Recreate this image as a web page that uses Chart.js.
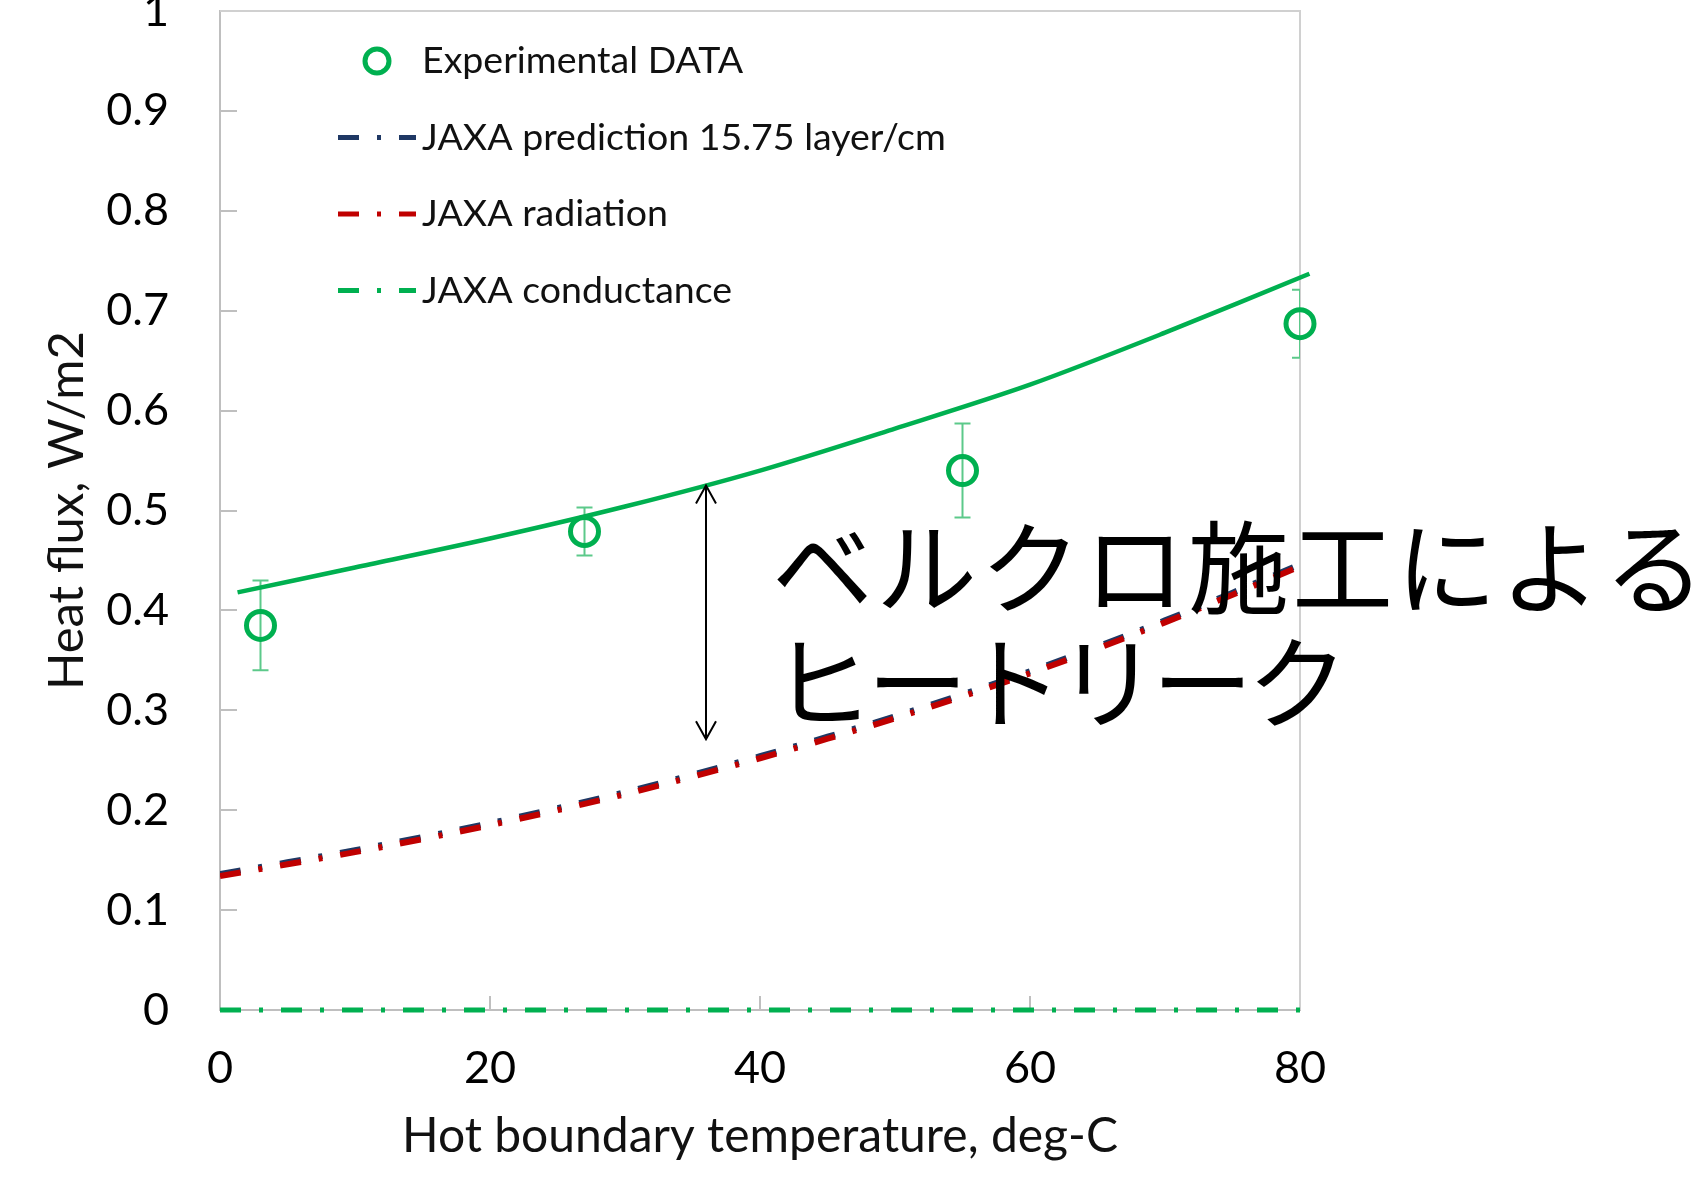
<!DOCTYPE html>
<html>
<head>
<meta charset="utf-8">
<script src="https://cdn.jsdelivr.net/npm/chart.js@4/dist/chart.umd.min.js"></script>
<style>
  html, body { margin: 0; padding: 0; background: #fff; overflow: hidden; }
  #wrap { position: relative; width: 1699px; height: 1179px; }
  canvas { display: block; }
</style>
</head>
<body>
<div id="wrap"><canvas id="c" width="1699" height="1179"></canvas></div>
<script>
// Measured heat flux with error bars
const expTemp = [3, 27, 55, 80];
const expFlux = [0.385, 0.479, 0.540, 0.687];
const expErr  = [0.045, 0.024, 0.047, 0.034];

// JAXA model curves
const modelTemp       = [0, 10, 20, 30, 40, 50, 60, 70, 80];
const predictionFlux  = [0.136, 0.160, 0.187, 0.218, 0.254, 0.294, 0.339, 0.390, 0.446];
const radiationFlux   = [0.134, 0.158, 0.185, 0.216, 0.252, 0.292, 0.337, 0.388, 0.444];
const conductanceFlux = [0, 0, 0, 0, 0, 0, 0, 0, 0];

// Curve including the velcro heat leak
const velcroTemp = [1.3, 10, 20, 30, 40, 50, 60, 70, 80.7];
const velcroFlux = [0.418, 0.443, 0.472, 0.504, 0.540, 0.582, 0.626, 0.678, 0.737];

// Axes
const xTicks = [0, 20, 40, 60, 80];
const yTicks = [0, 0.1, 0.2, 0.3, 0.4, 0.5, 0.6, 0.7, 0.8, 0.9, 1];
const yTickLabels = ['0', '0.1', '0.2', '0.3', '0.4', '0.5', '0.6', '0.7', '0.8', '0.9', '1'];

// Heat-leak annotation (temperature, lower and upper flux)
const leakArrow = { x: 36, yLow: 0.271, yHigh: 0.525 };
const leakText = ['ベルクロ施工による', 'ヒートリーク'];

const GREEN = '#00b050';
const RED = '#c00000';
const NAVY = '#1f3864';
const AXIS = '#bfbfbf';
const DASH_DOT = [21, 18, 4, 18];

const pts = (xs, ys) => xs.map((x, i) => ({ x, y: ys[i] }));

Chart.defaults.font.family = 'Lato, "Open Sans", sans-serif';
Chart.defaults.color = '#000';

// Plot frame (top and right edges)
const framePlugin = {
  id: 'frame',
  beforeDatasetsDraw(chart) {
    const { ctx, chartArea: a } = chart;
    ctx.save();
    ctx.strokeStyle = '#d0d0d0';
    ctx.lineWidth = 2;
    ctx.beginPath();
    ctx.moveTo(a.left, a.top);
    ctx.lineTo(a.right, a.top);
    ctx.lineTo(a.right, a.bottom);
    ctx.stroke();
    ctx.restore();
  }
};

// Vertical error bars of the measured points
const errorBarPlugin = {
  id: 'errorBars',
  beforeDatasetsDraw(chart) {
    const { ctx, chartArea: a, scales: { x, y } } = chart;
    ctx.save();
    ctx.beginPath();
    ctx.rect(a.left, a.top, a.right - a.left, a.bottom - a.top);
    ctx.clip();
    ctx.strokeStyle = '#5cc98a';
    ctx.lineWidth = 2;
    expTemp.forEach((t, i) => {
      const px = x.getPixelForValue(t);
      const top = y.getPixelForValue(expFlux[i] + expErr[i]);
      const bot = y.getPixelForValue(expFlux[i] - expErr[i]);
      ctx.beginPath();
      ctx.moveTo(px, top); ctx.lineTo(px, bot);
      ctx.moveTo(px - 8, top); ctx.lineTo(px + 8, top);
      ctx.moveTo(px - 8, bot); ctx.lineTo(px + 8, bot);
      ctx.stroke();
    });
    ctx.restore();
  }
};

// Legend rows in the upper-left corner of the plot
const legendPlugin = {
  id: 'legendRows',
  afterDraw(chart) {
    const ctx = chart.ctx;
    const rows = chart.data.datasets.filter(d => d.legendRow !== undefined)
      .sort((a, b) => a.legendRow - b.legendRow);
    ctx.save();
    ctx.font = '37.5px Lato, "Open Sans", sans-serif';
    ctx.textBaseline = 'middle';
    ctx.fillStyle = '#111';
    rows.forEach((d, i) => {
      const yRow = 61 + i * 76.5;
      ctx.strokeStyle = d.borderColor;
      ctx.lineWidth = 5;
      ctx.beginPath();
      if (d.showLine === false) {
        ctx.arc(377, yRow, 12, 0, Math.PI * 2);
        ctx.stroke();
      } else {
        ctx.setLineDash(d.borderDash || []);
        ctx.moveTo(338, yRow);
        ctx.lineTo(416, yRow);
        ctx.stroke();
        ctx.setLineDash([]);
      }
      ctx.fillText(d.label, 422, yRow);
    });
    ctx.restore();
  }
};

// Double arrow and caption for the velcro heat leak
const annotationPlugin = {
  id: 'leakNote',
  afterDraw(chart) {
    const { ctx, scales: { x, y } } = chart;
    const px = x.getPixelForValue(leakArrow.x);
    const pTop = y.getPixelForValue(leakArrow.yHigh);
    const pBot = y.getPixelForValue(leakArrow.yLow);
    ctx.save();
    ctx.strokeStyle = '#000';
    ctx.lineWidth = 2;
    ctx.beginPath();
    ctx.moveTo(px, pTop); ctx.lineTo(px, pBot);
    ctx.moveTo(px - 10, pTop + 18); ctx.lineTo(px, pTop); ctx.lineTo(px + 10, pTop + 18);
    ctx.moveTo(px - 10, pBot - 18); ctx.lineTo(px, pBot); ctx.lineTo(px + 10, pBot - 18);
    ctx.stroke();

    ctx.fillStyle = '#000';
    ctx.font = '101px "Noto Sans CJK JP", sans-serif';
    ctx.textBaseline = 'alphabetic';
    ctx.letterSpacing = '3px';
    ctx.fillText(leakText[0], 772, 606);
    ctx.letterSpacing = '-6px';
    ctx.fillText(leakText[1], 772, 721);
    ctx.letterSpacing = '0px';
    ctx.restore();
  }
};

new Chart(document.getElementById('c'), {
  type: 'line',
  data: {
    datasets: [
      {
        label: 'Experimental DATA',
        legendRow: 0,
        data: pts(expTemp, expFlux),
        showLine: false,
        borderColor: GREEN,
        backgroundColor: 'rgba(0,0,0,0)',
        pointStyle: 'circle',
        pointRadius: 14,
        pointBorderWidth: 5,
        pointBorderColor: GREEN,
        pointBackgroundColor: 'rgba(0,0,0,0)',
        clip: false,
        order: 0
      },
      {
        label: 'With velcro',
        data: pts(velcroTemp, velcroFlux),
        borderColor: GREEN,
        borderWidth: 4.5,
        pointRadius: 0,
        tension: 0.3,
        clip: false,
        order: 1
      },
      {
        label: 'JAXA radiation',
        legendRow: 2,
        data: pts(modelTemp, radiationFlux),
        borderColor: RED,
        borderWidth: 6,
        borderDash: DASH_DOT,
        pointRadius: 0,
        tension: 0.3,
        order: 2
      },
      {
        label: 'JAXA prediction 15.75 layer/cm',
        legendRow: 1,
        data: pts(modelTemp, predictionFlux),
        borderColor: NAVY,
        borderWidth: 6,
        borderDash: DASH_DOT,
        pointRadius: 0,
        tension: 0.3,
        order: 3
      },
      {
        label: 'JAXA conductance',
        legendRow: 3,
        data: pts(modelTemp, conductanceFlux),
        borderColor: GREEN,
        borderWidth: 5,
        borderDash: DASH_DOT,
        pointRadius: 0,
        clip: false,
        order: 4
      }
    ]
  },
  options: {
    responsive: false,
    animation: false,
    devicePixelRatio: 1,
    layout: { autoPadding: false, padding: { left: 0, right: 399, top: 11, bottom: 0 } },
    plugins: { legend: { display: false }, tooltip: { enabled: false } },
    scales: {
      x: {
        type: 'linear',
        min: 0, max: 80,
        afterBuildTicks: s => { s.ticks = xTicks.map(v => ({ value: v })); },
        afterFit: s => { s.height = 169; s.paddingLeft = 0; s.paddingRight = 0; },
        ticks: { font: { size: 45 }, padding: 45, maxRotation: 0, autoSkip: false, color: '#000' },
        grid: { display: true, drawOnChartArea: false, drawTicks: true, tickLength: -14, color: AXIS, lineWidth: 2 },
        border: { display: true, color: AXIS, width: 2 },
        title: { display: true, text: 'Hot boundary temperature, deg-C', font: { size: 48 }, color: '#111', padding: { top: 0, bottom: 14 } }
      },
      y: {
        type: 'linear',
        min: 0, max: 1,
        afterBuildTicks: s => { s.ticks = yTicks.map(v => ({ value: v })); },
        afterFit: s => { s.width = 220; s.paddingTop = 0; s.paddingBottom = 0; },
        ticks: { font: { size: 45 }, padding: 68, autoSkip: false, color: '#000',
                 callback: (v, i) => yTickLabels[i] },
        grid: { display: true, drawOnChartArea: false, drawTicks: true, tickLength: -17, color: AXIS, lineWidth: 2 },
        border: { display: true, color: AXIS, width: 2 },
        title: { display: true, text: 'Heat flux, W/m2', font: { size: 49 }, color: '#111', padding: { top: 38, bottom: 0 } }
      }
    }
  },
  plugins: [framePlugin, errorBarPlugin, legendPlugin, annotationPlugin]
});
</script>
</body>
</html>
